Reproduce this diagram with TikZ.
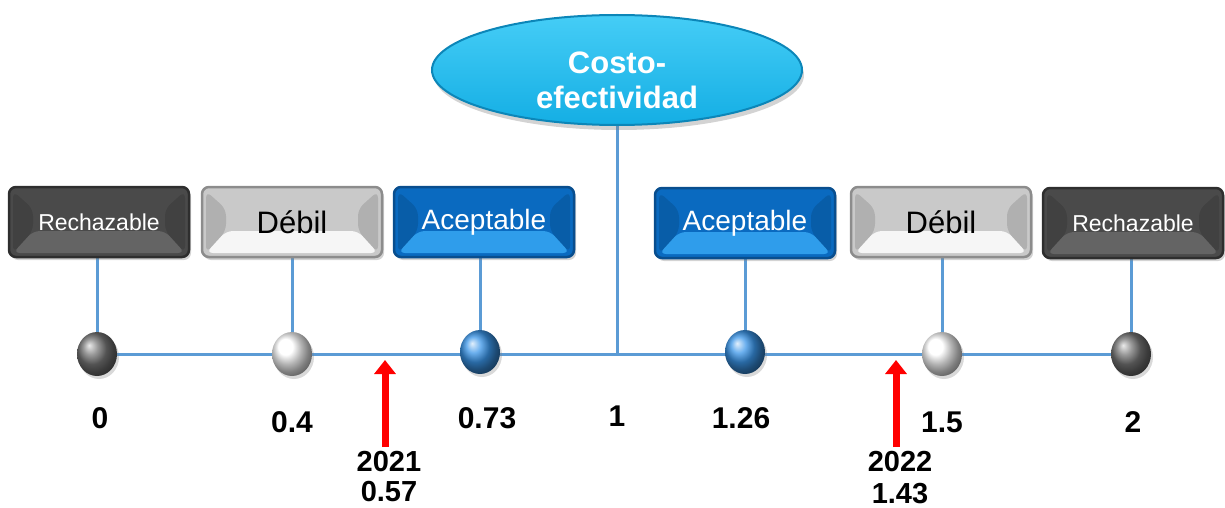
\documentclass[tikz,border=0pt]{standalone}
\usepackage{fontspec}
\setmainfont{Liberation Sans}
\usetikzlibrary{arrows.meta,shapes.geometric,shadows,backgrounds,calc}
\definecolor{lineblue}{HTML}{5B9BD5}
\definecolor{dkbase}{HTML}{4A4A4A}
\definecolor{dklow}{HTML}{646464}
\definecolor{dkedge}{HTML}{2E2E2E}
\definecolor{ltbase}{HTML}{C9C9C9}
\definecolor{ltlow}{HTML}{F6F6F6}
\definecolor{ltedge}{HTML}{8C8C8C}
\definecolor{blbase}{HTML}{0A6AC0}
\definecolor{bllow}{HTML}{2F9DEB}
\definecolor{bledge}{HTML}{094E8E}
\definecolor{cyanA}{HTML}{45CDF6}
\definecolor{cyanB}{HTML}{14AEE4}
\definecolor{cyanE}{HTML}{0C86B8}
\definecolor{ballblue}{HTML}{3A95E8}
\definecolor{balldark}{HTML}{767676}
\begin{document}
\begin{tikzpicture}[x=1pt,y=-1pt,
  boxbase/.style n args={3}{rectangle, rounded corners=7pt, minimum width=180pt, minimum height=70pt,
    inner sep=0pt, draw=#3, line width=2.5pt, fill=#1,
    drop shadow={opacity=0.35, shadow xshift=2pt, shadow yshift=-3pt},
    path picture={
      \fill[#2] ($(path picture bounding box.south west)+(4pt,4pt)$) --
                ($(path picture bounding box.south west)+(24pt,26pt)$) --
                ($(path picture bounding box.south east)+(-24pt,26pt)$) --
                ($(path picture bounding box.south east)+(-4pt,4pt)$) -- cycle;
      \fill[black, opacity=0.12] ($(path picture bounding box.north west)+(4pt,-4pt)$) --
                ($(path picture bounding box.north west)+(24pt,-22pt)$) --
                ($(path picture bounding box.south west)+(24pt,26pt)$) --
                ($(path picture bounding box.south west)+(4pt,4pt)$) -- cycle;
      \fill[black, opacity=0.12] ($(path picture bounding box.north east)+(-4pt,-4pt)$) --
                ($(path picture bounding box.north east)+(-24pt,-22pt)$) --
                ($(path picture bounding box.south east)+(-24pt,26pt)$) --
                ($(path picture bounding box.south east)+(-4pt,4pt)$) -- cycle;
    }},
  rejbox/.style={boxbase={dkbase}{dklow}{dkedge}, text=white, font=\fontsize{23}{27}\selectfont},
  weakbox/.style={boxbase={ltbase}{ltlow}{ltedge}, text=black, font=\fontsize{31}{34}\selectfont},
  accbox/.style={boxbase={blbase}{bllow}{bledge}, text=white, font=\fontsize{28}{32}\selectfont},
  ballnode/.style={ellipse, minimum width=40pt, minimum height=44pt, inner sep=0pt, shading=ball, ball color=#1,
    drop shadow={opacity=0.3, shadow xshift=2pt, shadow yshift=-3pt}},
  numlabel/.style={font=\bfseries\fontsize{30}{34}\selectfont, inner sep=0pt},
  yearlabel/.style={font=\bfseries\fontsize{29}{30}\selectfont, align=center, inner sep=0pt},
  conn/.style={draw=lineblue, line width=3pt},
  redarrow/.style={draw=red, line width=7pt, -{Triangle[width=21pt,length=14pt]}}
]
\useasboundingbox (0,0) rectangle (1225,508);

% central ellipse
\node[ellipse, minimum width=370pt, minimum height=110pt, draw=cyanE, line width=2pt,
      top color=cyanA, bottom color=cyanB,
      drop shadow={opacity=0.35, shadow xshift=2pt, shadow yshift=-5pt}] (ell) at (617,70) {};
\node[font=\bfseries\fontsize{31}{35}\selectfont, text=white, align=center] (elltext) at (617,80) {Costo-\\efectividad};

% boxes
\node[rejbox]  (r1) at (99,222)  {Rechazable};
\node[weakbox] (d1) at (292,222) {Débil};
\node[accbox]  (a1) at (484,222) {Aceptable};
\node[accbox]  (a2) at (745,223) {Aceptable};
\node[weakbox] (d2) at (941,222) {Débil};
\node[rejbox]  (r2) at (1133,223) {Rechazable};

% balls
\node[ballnode=balldark] (b0) at (97,354)  {};
\node[ballnode=white]    (b1) at (292,354) {};
\node[ballnode=ballblue] (b2) at (480,352) {};
\node[ballnode=ballblue] (b3) at (745,352) {};
\node[ballnode=white]    (b4) at (942,354) {};
\node[ballnode=balldark] (b5) at (1131,354) {};
\coordinate (mid) at (617,354);

% connectors
\begin{scope}[on background layer]
\draw[conn] (b0.center) -- (b5.center);
\draw[conn] (ell.south) -- (mid);
\draw[conn] (r1.south -| b0) -- (b0.center);
\draw[conn] (d1.south -| b1) -- (b1.center);
\draw[conn] (a1.south -| b2) -- (b2.center);
\draw[conn] (a2.south -| b3) -- (b3.center);
\draw[conn] (d2.south -| b4) -- (b4.center);
\draw[conn] (r2.south -| b5) -- (b5.center);
\end{scope}

% numbers
\node[numlabel] (n0) at (100,418) {0};
\node[numlabel] (n1) at (292,422) {0.4};
\node[numlabel] (n2) at (487,418) {0.73};
\node[numlabel] (n3) at (617,416) {1};
\node[numlabel] (n4) at (741,418) {1.26};
\node[numlabel] (n5) at (942,422) {1.5};
\node[numlabel] (n6) at (1133,422) {2};

% red arrows
\coordinate (t1) at (385,447);
\coordinate (h1) at (385,360);
\coordinate (t2) at (896,447);
\coordinate (h2) at (896,360);
\draw[redarrow] (t1) -- (h1);
\draw[redarrow] (t2) -- (h2);
\node[yearlabel] (y1) at (389,477) {2021\\0.57};
\node[yearlabel] (y2) at (900,478) {2022\\[2pt]1.43};
\end{tikzpicture}
\end{document}
